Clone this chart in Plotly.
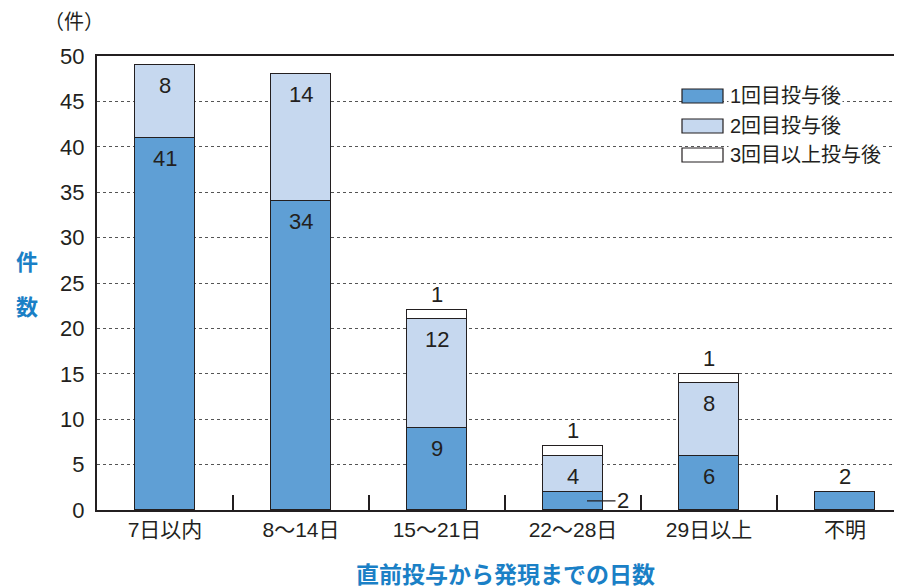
import plotly.graph_objects as go

categories = ["7日以内", "8～14日", "15～21日", "22～28日", "29日以上", "不明"]
first_dose = [41, 34, 9, 2, 6, 2]
second_dose = [8, 14, 12, 4, 8, None]
third_plus = [None, None, 1, 1, 1, None]
series_names = ["1回目投与後", "2回目投与後", "3回目以上投与後"]
y_ticks = [0, 5, 10, 15, 20, 25, 30, 35, 40, 45, 50]

DARK = "#5f9fd5"
LIGHT = "#c6d8ef"
INK = "#231f20"
BLUE = "#1a80c6"
FONT = "Liberation Sans, Noto Sans CJK JP, sans-serif"

# the page body has an 8px margin, so the figure is shrunk by that much
PAGE_PAD = 8
W, H = 902 - PAGE_PAD, 588 - PAGE_PAD
# plot area in window pixels (for paper-coordinate helpers)
L, R, T, B = 97, 902, 56, 510


def px_x(p):
    return (p - L) / (R - L)


def px_y(p):
    return (B - p) / (B - T)


x = list(range(len(categories)))
bar_line = dict(color=INK, width=1.3)
label_font = dict(family=FONT, size=22, color=INK)

fig = go.Figure()
for vals, name, fill in zip((first_dose, second_dose, third_plus), series_names,
                            (DARK, LIGHT, "white")):
    fig.add_trace(go.Bar(
        x=x, y=vals, name=name, width=0.44,
        marker=dict(color=fill, line=bar_line), hoverinfo="name+y",
    ))

# value labels: near the top inside a segment, above the bar for the top-most small ones
for i in x:
    base = 0
    segs = [first_dose[i], second_dose[i], third_plus[i]]
    last = max(k for k, v in enumerate(segs) if v is not None)
    for k, v in enumerate(segs):
        if v is None:
            continue
        top = base + v
        if i == 3 and k == 0:
            # small segment: leader line to a label on the right
            fig.add_annotation(
                x=i, y=base + v / 2, text=str(v),
                showarrow=True, arrowhead=0, arrowwidth=1.2, arrowcolor=INK,
                ax=50, ay=0, standoff=14, font=label_font,
            )
        elif k == 2 or (k == last and v <= 2):
            fig.add_annotation(
                x=i, y=top, text=str(v), showarrow=False, xanchor="center",
                yanchor="bottom", yshift=1, font=label_font,
            )
        else:
            fig.add_annotation(
                x=i, y=top, text=str(v), showarrow=False, xanchor="center",
                yanchor="top", yshift=-6, font=label_font,
            )
        base = top

# custom legend: large swatches, white backing behind the text only
legend_fills = [DARK, LIGHT, "white"]
row_centers = [96, 126, 155]
for name, fill, cy in zip(series_names, legend_fills, row_centers):
    fig.add_shape(
        type="rect", xref="paper", yref="paper",
        x0=px_x(682), x1=px_x(723), y0=px_y(cy + 7), y1=px_y(cy - 7),
        fillcolor=fill, line=dict(color=INK, width=1.2), layer="above",
    )
    fig.add_annotation(
        xref="paper", yref="paper", x=px_x(728), y=px_y(cy),
        xanchor="left", yanchor="middle", text=name, showarrow=False,
        bgcolor="white", borderpad=1,
        font=dict(family=FONT, size=20, color=INK),
    )

# unit and axis titles
fig.add_annotation(
    xref="paper", yref="paper", x=px_x(74), y=px_y(22), text="（件）",
    xanchor="center", yanchor="middle",
    showarrow=False, font=dict(family=FONT, size=20, color=INK),
)
for ch, py in (("件", 262), ("数", 307)):
    fig.add_annotation(
        xref="paper", yref="paper", x=px_x(27), y=px_y(py), text=f"<b>{ch}</b>",
        xanchor="center", yanchor="middle",
        showarrow=False, font=dict(family=FONT, size=22, color=BLUE),
    )
fig.add_annotation(
    xref="paper", yref="paper", x=px_x(505), y=px_y(575),
    xanchor="center", yanchor="middle",
    text="<b>直前投与から発現までの日数</b>", showarrow=False,
    font=dict(family=FONT, size=23, color=BLUE),
)

fig.update_layout(
    width=W, height=H,
    margin=dict(l=L - PAGE_PAD, r=0, t=T - PAGE_PAD, b=H - (B - PAGE_PAD)),
    barmode="stack", bargap=0,
    showlegend=False,
    plot_bgcolor="white", paper_bgcolor="white",
    font=dict(family=FONT, color=INK),
)
fig.update_xaxes(
    range=[-0.5, (R - L) / 136 - 0.5],
    tickmode="array", tickvals=x, ticktext=categories, ticks="",
    tickfont=dict(family=FONT, size=21, color=INK),
    showgrid=False, zeroline=False,
    showline=True, linecolor=INK, linewidth=2, mirror=True,
    minor=dict(tickmode="array", tickvals=[i + 0.5 for i in x[:-1]],
               ticks="inside", ticklen=15, tickcolor=INK, tickwidth=1.5, showgrid=False),
)
fig.update_yaxes(
    range=[0, 50], tickmode="array", tickvals=y_ticks,
    tickfont=dict(family=FONT, size=22, color=INK), ticks="", ticklabelstandoff=6,
    showgrid=True, gridcolor="#555555", gridwidth=1, griddash="3px,3px",
    zeroline=False, showline=True, linecolor=INK, linewidth=2,
)

fig.write_html("out.html")
